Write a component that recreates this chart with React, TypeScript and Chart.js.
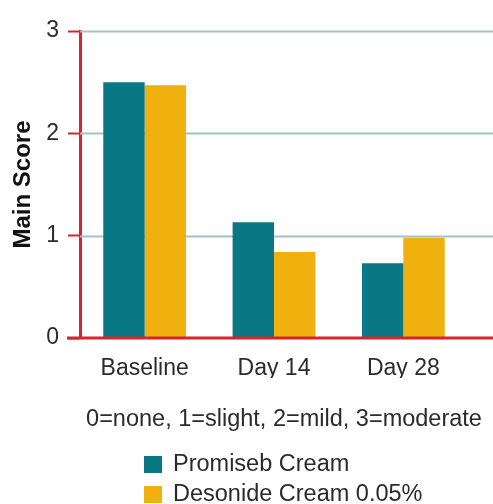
import React, { useEffect, useRef } from "react";
import { Chart, registerables } from "chart.js";

Chart.register(...registerables);

const categories = ["Baseline", "Day 14", "Day 28"];
const promisebValues = [2.5, 1.13, 0.73];
const desonideValues = [2.47, 0.84, 0.98];
const seriesNames = ["Promiseb Cream", "Desonide Cream 0.05%"];
const yTicks = [0, 1, 2, 3];
const yTitle = "Main Score";
const scaleNote = "0=none, 1=slight, 2=mild, 3=moderate";

const TEAL = "#0a7884";
const YELLOW = "#f0b00e";
const RED = "#d9232e";
const GRID = "#a3c4c4";
const TEXT = "#2b2b2b";
const FONT = "'Liberation Sans', Arial, Helvetica, sans-serif";

const extrasPlugin = {
  id: "extras",
  beforeDatasetsDraw(chart: any) {
    const { ctx, chartArea, scales } = chart;
    const y = scales.y;
    ctx.save();
    ctx.strokeStyle = GRID;
    ctx.lineWidth = 2;
    yTicks.forEach((v) => {
      if (v === 0) return;
      const py = Math.round(y.getPixelForValue(v)) + 0.5;
      ctx.beginPath();
      ctx.moveTo(chartArea.left, py);
      ctx.lineTo(chart.width, py);
      ctx.stroke();
    });
    ctx.restore();
  },
  afterDatasetsDraw(chart: any) {
    const { ctx, chartArea, scales } = chart;
    const y = scales.y;
    const py = y.getPixelForValue(0);
    ctx.save();
    ctx.strokeStyle = RED;
    ctx.lineWidth = 3;
    ctx.beginPath();
    ctx.moveTo(chartArea.left - 13, py);
    ctx.lineTo(chart.width, py);
    ctx.stroke();
    ctx.restore();
  },
  afterDraw(chart: any) {
    const { ctx } = chart;
    ctx.save();
    ctx.fillStyle = TEXT;
    ctx.font = `23.5px ${FONT}`;
    ctx.textAlign = "center";
    ctx.textBaseline = "middle";
    ctx.fillText(scaleNote, 284, 420);
    ctx.textAlign = "left";
    chart.data.datasets.forEach((ds: any, i: number) => {
      const top = 456 + i * 30;
      ctx.fillStyle = ds.backgroundColor;
      ctx.fillRect(144, top, 18, 17);
      ctx.fillStyle = TEXT;
      ctx.fillText(ds.label, 173, top + 9);
    });
    ctx.restore();
  },
};

export default function App() {
  const canvasRef = useRef<HTMLCanvasElement | null>(null);

  useEffect(() => {
    document.body.style.margin = "0";
    const canvas = canvasRef.current;
    if (!canvas) return;
    const chart = new Chart(canvas, {
      type: "bar",
      data: {
        labels: categories,
        datasets: [
          {
            label: seriesNames[0],
            data: promisebValues,
            backgroundColor: TEAL,
            categoryPercentage: 0.64,
            barPercentage: 1.0,
          },
          {
            label: seriesNames[1],
            data: desonideValues,
            backgroundColor: YELLOW,
            categoryPercentage: 0.64,
            barPercentage: 1.0,
          },
        ],
      },
      options: {
        animation: false,
        responsive: false,
        maintainAspectRatio: false,
        layout: { padding: { top: 31, right: 25, bottom: 126, left: 0 } },
        plugins: {
          legend: { display: false },
          tooltip: { enabled: false },
        },
        scales: {
          x: {
            grid: { display: false, drawTicks: false },
            border: { display: false },
            ticks: {
              color: TEXT,
              font: { family: FONT, size: 23 },
              padding: 17,
            },
            afterFit: (scale: any) => {
              scale.height = 40;
            },
          },
          y: {
            min: 0,
            max: 3,
            afterBuildTicks: (scale: any) => {
              scale.ticks = yTicks.map((v) => ({ value: v }));
            },
            grid: {
              drawOnChartArea: false,
              drawTicks: true,
              tickLength: 12,
              tickColor: RED,
              tickWidth: 2,
            },
            border: { color: RED, width: 3 },
            ticks: {
              color: TEXT,
              font: { family: FONT, size: 23 },
              padding: 9,
            },
            title: {
              display: true,
              text: yTitle,
              color: "#111",
              font: { family: FONT, size: 24, weight: "bold" },
              padding: { top: 9, bottom: 0 },
            },
            afterFit: (scale: any) => {
              scale.width = 80;
            },
          },
        },
      },
      plugins: [extrasPlugin],
    });
    return () => chart.destroy();
  }, []);

  return (
    <div style={{ width: 493, height: 504, position: "relative", background: "#fff" }}>
      <canvas ref={canvasRef} width={493} height={504} style={{ width: 493, height: 504, display: "block" }} />
    </div>
  );
}
